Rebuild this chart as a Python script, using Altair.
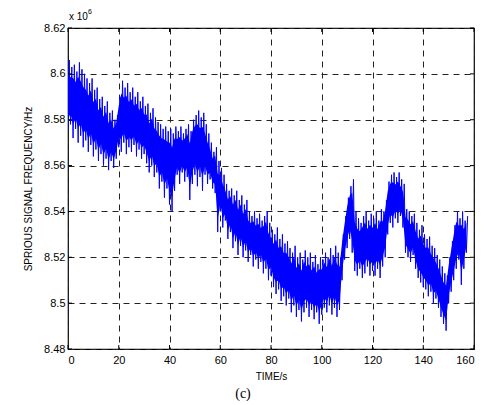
import altair as alt
import pandas as pd

# time in seconds (1 s steps) and read-off upper / lower envelope of the noisy trace (x 10^6 Hz)
time_s = list(range(0, 158))
upper = [8.606, 8.603, 8.604, 8.601, 8.605, 8.602, 8.600, 8.598, 8.596, 8.598,
         8.593, 8.594, 8.589, 8.590, 8.586, 8.588, 8.583, 8.584, 8.580, 8.582,
         8.590, 8.597, 8.594, 8.596, 8.592, 8.594, 8.590, 8.592, 8.588, 8.590,
         8.586, 8.587, 8.583, 8.585, 8.581, 8.579, 8.578, 8.576, 8.577, 8.575,
         8.576, 8.574, 8.577, 8.575, 8.577, 8.574, 8.576, 8.578, 8.575, 8.580,
         8.582, 8.584, 8.581, 8.583, 8.578, 8.574, 8.570, 8.566, 8.568, 8.562,
         8.559, 8.556, 8.552, 8.549, 8.550, 8.547, 8.549, 8.545, 8.547, 8.543,
         8.545, 8.540, 8.538, 8.540, 8.537, 8.539, 8.536, 8.538, 8.540, 8.535,
         8.532, 8.530, 8.533, 8.528, 8.530, 8.526, 8.527, 8.524, 8.522, 8.525,
         8.520, 8.522, 8.519, 8.523, 8.520, 8.522, 8.518, 8.521, 8.517, 8.520,
         8.519, 8.522, 8.520, 8.524, 8.521, 8.525, 8.522, 8.520, 8.530, 8.538,
         8.546, 8.551, 8.554, 8.540, 8.537, 8.535, 8.538, 8.540, 8.536, 8.539,
         8.537, 8.540, 8.536, 8.541, 8.540, 8.545, 8.553, 8.556, 8.557, 8.555,
         8.557, 8.554, 8.552, 8.541, 8.540, 8.538, 8.539, 8.535, 8.532, 8.534,
         8.530, 8.528, 8.529, 8.525, 8.524, 8.521, 8.519, 8.516, 8.513, 8.512,
         8.520, 8.527, 8.534, 8.540, 8.537, 8.540, 8.536, 8.538]
lower = [8.575, 8.578, 8.572, 8.576, 8.570, 8.573, 8.568, 8.571, 8.566, 8.569,
         8.564, 8.567, 8.562, 8.565, 8.560, 8.563, 8.558, 8.562, 8.559, 8.563,
         8.568, 8.566, 8.570, 8.565, 8.568, 8.566, 8.569, 8.564, 8.567, 8.563,
         8.565, 8.561, 8.557, 8.560, 8.555, 8.557, 8.550, 8.553, 8.546, 8.550,
         8.543, 8.540, 8.549, 8.556, 8.552, 8.557, 8.553, 8.555, 8.545, 8.552,
         8.556, 8.551, 8.555, 8.549, 8.556, 8.552, 8.554, 8.550, 8.548, 8.531,
         8.540, 8.533, 8.536, 8.528, 8.531, 8.524, 8.527, 8.521, 8.525, 8.520,
         8.523, 8.518, 8.521, 8.516, 8.519, 8.515, 8.518, 8.513, 8.515, 8.510,
         8.512, 8.507, 8.504, 8.506, 8.501, 8.503, 8.499, 8.502, 8.496, 8.499,
         8.494, 8.497, 8.492, 8.496, 8.498, 8.494, 8.497, 8.493, 8.496, 8.491,
         8.495, 8.498, 8.496, 8.499, 8.495, 8.498, 8.494, 8.497, 8.510, 8.519,
         8.524, 8.528, 8.522, 8.514, 8.512, 8.515, 8.511, 8.513, 8.516, 8.512,
         8.514, 8.512, 8.515, 8.511, 8.516, 8.520, 8.530, 8.535, 8.533, 8.537,
         8.535, 8.538, 8.533, 8.522, 8.520, 8.518, 8.521, 8.515, 8.511, 8.509,
         8.507, 8.506, 8.503, 8.505, 8.500, 8.502, 8.498, 8.494, 8.491, 8.488,
         8.500, 8.505, 8.510, 8.515, 8.519, 8.508, 8.515, 8.522]

x_ticks = [0, 20, 40, 60, 80, 100, 120, 140, 160]
y_ticks = [8.48, 8.50, 8.52, 8.54, 8.56, 8.58, 8.60, 8.62]

W, H = 406, 321

rows = []
for t, lo, hi in zip(time_s, lower, upper):
    rows.append({"t": t, "f": lo})
    rows.append({"t": t + 0.5, "f": hi})
df = pd.DataFrame(rows)

# solid core of the trace (inner part of the envelope)
band = pd.DataFrame({
    "t": time_s,
    "lo": [l + 0.18 * (u - l) for l, u in zip(lower, upper)],
    "hi": [u - 0.18 * (u - l) for l, u in zip(lower, upper)],
})

xs = alt.Scale(domain=[0, 160], nice=False)
ys = alt.Scale(domain=[8.48, 8.62], nice=False)

core = alt.Chart(band).mark_area(color="#0000ff", opacity=1, clip=True).encode(
    x=alt.X("t:Q", scale=xs,
            axis=alt.Axis(values=x_ticks, title="TIME/s", grid=True, ticks=False,
                          labelPadding=5, titlePadding=6)),
    y=alt.Y("lo:Q", scale=ys,
            axis=alt.Axis(values=y_ticks, format=".2~f", title="SPRIOUS SIGNAL FREQUENCY/Hz",
                          grid=True, ticks=False, labelPadding=3, titlePadding=10)),
    y2="hi:Q",
)

line = alt.Chart(df).mark_line(color="#0000ff", strokeWidth=1, clip=True).encode(
    x=alt.X("t:Q", scale=xs),
    y=alt.Y("f:Q", scale=ys),
)

xt = pd.DataFrame({"v": x_ticks})
yt = pd.DataFrame({"v": y_ticks})
tick_bot = alt.Chart(xt).mark_rule(color="black", strokeWidth=1).encode(
    x=alt.X("v:Q", scale=xs), y=alt.value(H), y2=alt.value(H - 4))
tick_top = alt.Chart(xt).mark_rule(color="black", strokeWidth=1).encode(
    x=alt.X("v:Q", scale=xs), y=alt.value(0), y2=alt.value(4))
tick_left = alt.Chart(yt).mark_rule(color="black", strokeWidth=1).encode(
    y=alt.Y("v:Q", scale=ys), x=alt.value(0), x2=alt.value(4))
tick_right = alt.Chart(yt).mark_rule(color="black", strokeWidth=1).encode(
    y=alt.Y("v:Q", scale=ys), x=alt.value(W), x2=alt.value(W - 4))

exp_txt = alt.Chart(pd.DataFrame({"s": ["x 10"]})).mark_text(
    align="left", baseline="middle", fontSize=10, font="Liberation Sans", color="black"
).encode(text="s:N", x=alt.value(1), y=alt.value(-11))
exp_sup = alt.Chart(pd.DataFrame({"s": ["6"]})).mark_text(
    align="left", baseline="middle", fontSize=7, font="Liberation Sans", color="black"
).encode(text="s:N", x=alt.value(20), y=alt.value(-16))
caption = alt.Chart(pd.DataFrame({"s": ["(c)"]})).mark_text(
    align="center", baseline="middle", fontSize=14, font="Liberation Serif", color="black"
).encode(text="s:N", x=alt.value(175), y=alt.value(366))

chart = alt.layer(
    core, line, tick_bot, tick_top, tick_left, tick_right, exp_txt, exp_sup, caption
).properties(
    width=W, height=H,
    autosize=alt.AutoSizeParams(type="none"),
    padding={"left": 60, "top": 20, "right": 4, "bottom": 54},
    background="white",
).configure_view(
    stroke="black", strokeWidth=1.2
).configure_axis(
    domain=False,
    gridColor="#222222", gridDash=[6, 5], gridWidth=1, gridOpacity=1,
    labelFont="Liberation Sans", labelFontSize=11, labelColor="black",
    titleFont="Liberation Sans", titleFontSize=10, titleFontWeight="normal", titleColor="black",
)

chart.save("out.html", embed_options={"renderer": "svg", "actions": False})
